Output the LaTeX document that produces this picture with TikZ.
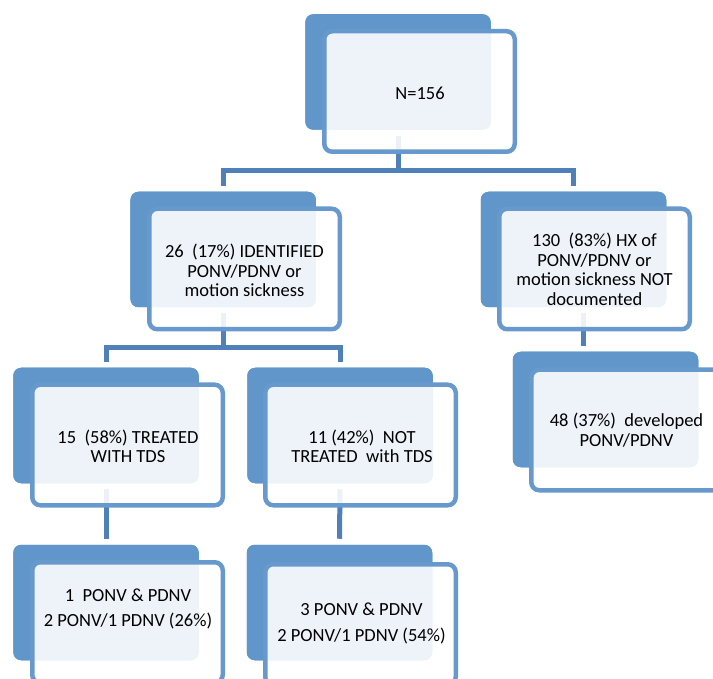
\documentclass[tikz,border=0pt]{standalone}
\usepackage{fontspec}
\setmainfont{Carlito}
\definecolor{backblue}{RGB}{96,150,201}
\definecolor{frontline}{RGB}{103,153,205}
\definecolor{connblue}{RGB}{79,128,183}
\tikzset{
  back/.style={rectangle, rounded corners=8pt, fill=backblue, draw=none,
    minimum width=185.5pt, minimum height=115.5pt, inner sep=0pt, outer sep=6pt},
  front/.style={rectangle, rounded corners=8pt, draw=frontline, line width=4.5pt,
    fill=white, fill opacity=0.89, minimum width=190.5pt, minimum height=120.5pt,
    inner sep=0pt, outer sep=0pt},
  txt/.style={align=center, inner sep=0pt, text=black,
    font=\fontsize{18.5}{19.5}\selectfont},
  conn/.style={draw=connblue, line width=5pt},
}
\begin{document}
\begin{tikzpicture}[x=1pt,y=-1pt]
\useasboundingbox (0,0) rectangle (713,679);
\clip (0,0) rectangle (713,679);
% back boxes
\node[back] (b1) at (398,72) {};
\node[back] (b2) at (223.2,249.5) {};
\node[back] (b3) at (573.5,249.5) {};
\node[back] (b4) at (605.5,409.5) {};
\node[back] (b5) at (106,425.5) {};
\node[back] (b6) at (340,425.5) {};
\node[back] (b7) at (106,602.5) {};
\node[back] (b8) at (339.5,602.5) {};
% junctions
\coordinate (j1) at (398,171);
\coordinate (j2) at (223.2,348);
% connectors (under the boxes)
\begin{scope}[on background layer/.style={}]
\draw[conn] (b1.south) -- (j1);
\draw[conn] (b2.north) |- (j1) -| (b3.north);
\draw[conn] (b2.south) -- (j2);
\draw[conn] (b5.north) |- (j2) -| (b6.north);
\draw[conn] ([xshift=9.5pt]b3.south) -- ([xshift=9.5pt]b3.south |- b4.north);
\draw[conn] (b5.south) -- (b7.north);
\draw[conn] (b6.south) -- (b8.north);
\end{scope}
% redraw back boxes over connectors
\foreach \n in {1,...,8} { \fill[backblue, rounded corners=8pt] (b\n.north west) ++(6,6) rectangle ([shift={(-6,-6)}]b\n.south east); }
% front boxes
\node[front] (f1) at (419.5,91.5) {};
\node[front] (f2) at (244.5,269) {};
\node[front] (f3) at (594.5,269) {};
\node[front] (f4) at (626.5,430) {};
\node[front] (f5) at (127.5,445) {};
\node[front] (f6) at (360.5,445) {};
\node[front] (f7) at (127.5,622.5) {};
\node[front] (f8) at (360.5,624.5) {};
% texts
\node[txt] (t1) at (420,93) {N=156};
\node[txt] (t2) at (244.5,270.5) {26\ \ (17\%) IDENTIFIED\\PONV/PDNV or\\motion sickness};
\node[txt] (t3) at (594.5,269.5) {130\ \ (83\%) HX of\\PONV/PDNV or\\motion sickness NOT\\documented};
\node[txt] (t4) at (626.5,430) {48 (37\%)\ \ developed\\PONV/PDNV};
\node[txt] (t5) at (128,446.5) {15\ \ (58\%) TREATED\\WITH TDS};
\node[txt] (t6) at (362,446.5) {11 (42\%)\ \ NOT\\TREATED\ \ with TDS};
\node[txt] (t7) at (128,609) {1\ \ PONV \& PDNV\\[5pt]2 PONV/1 PDNV (26\%)};
\node[txt] (t8) at (361.5,623.5) {3 PONV \& PDNV\\[6pt]2 PONV/1 PDNV (54\%)};
\end{tikzpicture}
\end{document}
